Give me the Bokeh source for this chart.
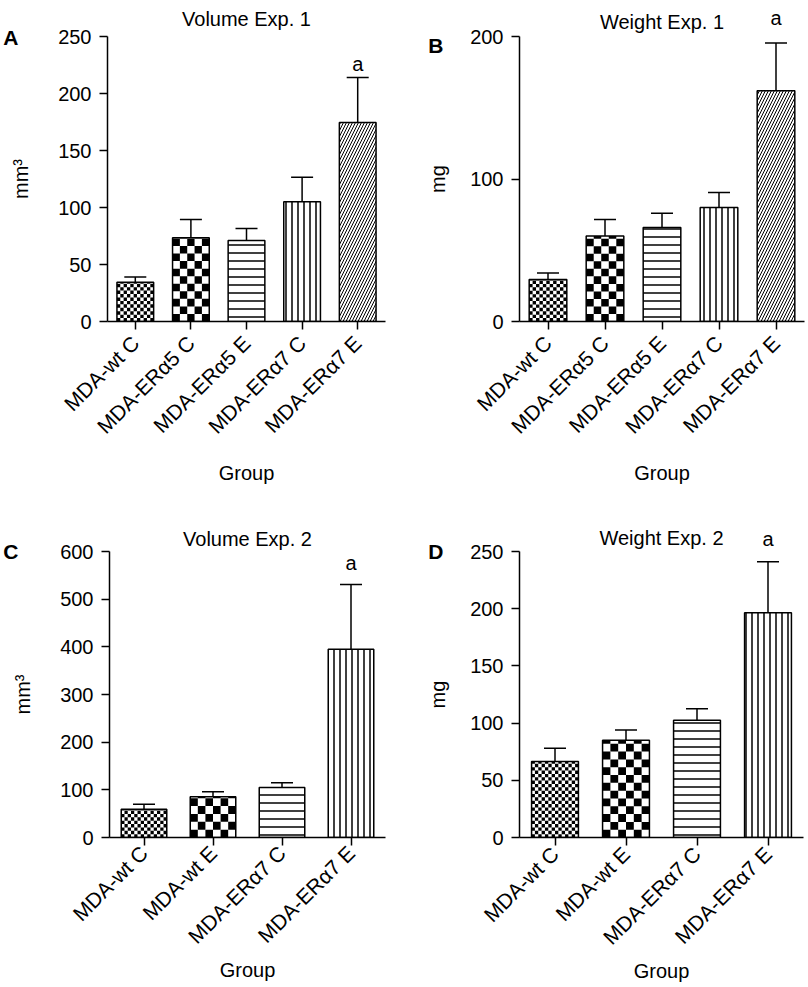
import math
from bokeh.plotting import figure
from bokeh.models import (ColumnDataSource, Whisker, TeeHead, LabelSet, FactorRange, Range1d,
                          FixedTicker, CategoricalAxis, LinearAxis, CustomJSTickFormatter)
from bokeh.core.properties import value
from bokeh.layouts import column, row
from bokeh.embed import file_html
from bokeh.resources import INLINE

# ---------------- data ----------------
groups_exp1 = ["MDA-wt C", "MDA-ERα5 C", "MDA-ERα5 E", "MDA-ERα7 C", "MDA-ERα7 E"]
volume_exp1 = [34.5, 73.5, 71.0, 105.0, 174.5]
volume_exp1_sem = [4.5, 16.0, 10.5, 21.5, 39.5]
weight_exp1 = [29.5, 60.0, 66.0, 80.0, 162.0]
weight_exp1_sem = [4.5, 11.5, 10.0, 10.5, 33.5]
sig_exp1 = ["", "", "", "", "a"]

groups_exp2 = ["MDA-wt C", "MDA-wt E", "MDA-ERα7 C", "MDA-ERα7 E"]
volume_exp2 = [59.5, 85.5, 105.0, 395.0]
volume_exp2_sem = [10.5, 10.5, 10.0, 136.0]
weight_exp2 = [66.5, 85.0, 102.5, 196.5]
weight_exp2_sem = [11.5, 9.0, 10.0, 44.5]
sig_exp2 = ["", "", "", "a"]

ticks_vol1 = [0, 50, 100, 150, 200, 250]
ticks_wt1 = [0, 100, 200]
ticks_vol2 = [0, 100, 200, 300, 400, 500, 600]
ticks_wt2 = [0, 50, 100, 150, 200, 250]

# ---------------- styles ----------------
FONT = "Liberation Sans"
BAR_W = 0.66
# fill style per bar: ("checker", cell px) or (hatch pattern, scale, weight)
style_exp1 = [("checker", 3.4), ("checker", 8), ("horizontal_line", 8, 1.5),
              ("vertical_line", 6, 1.5), ("right_diagonal_line", 6, 1.0)]
style_exp2 = [("checker", 3.4), ("checker", 8), ("horizontal_line", 8, 1.5),
              ("vertical_line", 6, 1.5)]


def checker_cells(idx, mean, cell_px, n, fw, fh, ymax):
    bar_px = BAR_W * fw / n
    ncol = max(1, round(bar_px / cell_px))
    dx = BAR_W / ncol
    dy = (bar_px / ncol) * ymax / fh
    nrow = math.ceil(mean / dy)
    x0 = idx + 0.5 - BAR_W / 2
    L, R, B, T = [], [], [], []
    for r in range(nrow):
        for k in range(ncol):
            if (r + k) % 2 == 0:
                L.append(x0 + k * dx)
                R.append(x0 + (k + 1) * dx)
                B.append(r * dy)
                T.append(min((r + 1) * dy, mean))
    return L, R, B, T


def panel(cats, means, sems, sig, styles, ymax, yticks, ylabel, title, letter,
          W, H, BL, BR, BT, BB, a_off, sig_in_header, s1, s2, letter_standoff, letter_dy,
          ylab_standoff, xmaj_standoff, xlab_standoff):
    n = len(cats)
    FW = W - BL - BR
    FH = H - BT - BB
    p = figure(x_range=FactorRange(*cats), y_range=Range1d(0, ymax),
               width=W, height=H,
               min_border_left=BL, min_border_right=BR, min_border_top=BT, min_border_bottom=BB,
               output_backend="svg", toolbar_location=None, tools="")
    p.outline_line_color = None
    p.xgrid.grid_line_color = None
    p.ygrid.grid_line_color = None
    xax = p.below[0]
    yax = p.left[0]

    upper = [m + s for m, s in zip(means, sems)]
    pats = [s[0] if s[0] != "checker" else "blank" for s in styles]
    scls = [s[1] if s[0] != "checker" else 12 for s in styles]
    wgts = [s[2] if s[0] != "checker" else 1 for s in styles]
    src = ColumnDataSource(dict(group=cats, mean=means, upper=upper,
                                pat=pats, scl=scls, wgt=wgts))
    p.vbar(x="group", top="mean", width=BAR_W, source=src,
           fill_color="white", line_color=None,
           hatch_pattern="pat", hatch_scale="scl", hatch_weight="wgt", hatch_color="black")
    # checkerboard fills
    L, R, B, T = [], [], [], []
    for i, (m, st) in enumerate(zip(means, styles)):
        if st[0] == "checker":
            l, r, b, t = checker_cells(i, m, st[1], n, FW, FH, ymax)
            L += l; R += r; B += b; T += t
    p.quad(left=L, right=R, bottom=B, top=T, fill_color="black", line_color=None)
    p.vbar(x="group", top="mean", width=BAR_W, source=src,
           fill_color=None, line_color="black", line_width=1.5)

    w = Whisker(base="group", upper="upper", lower="mean", source=src, dimension="height",
                line_color="black", line_width=1.5, lower_head=None,
                upper_head=TeeHead(size=22, line_color="black", line_width=1.5))
    p.add_layout(w)

    if not sig_in_header:
        sx = [c for c, s in zip(cats, sig) if s]
        sy = [u for u, s in zip(upper, sig) if s]
        st = [s for s in sig if s]
        ssrc = ColumnDataSource(dict(x=sx, y=sy, t=st))
        p.add_layout(LabelSet(x="x", y="y", text="t", source=ssrc, y_offset=a_off,
                              text_align="center", text_baseline="alphabetic",
                              text_font=value(FONT), text_font_size="20px",
                              text_color="black"))

    for ax in (xax, yax):
        ax.axis_line_width = 1.5
        ax.axis_line_color = "black"
        ax.major_tick_line_width = 1.5
        ax.major_tick_line_color = "black"
        ax.major_tick_out = 8
        ax.major_tick_in = 0
        ax.minor_tick_line_color = None
        ax.major_label_text_font = FONT
        ax.major_label_text_font_size = "20px"
        ax.major_label_text_color = "black"
        ax.axis_label_text_font = FONT
        ax.axis_label_text_font_size = "20px"
        ax.axis_label_text_font_style = "normal"
        ax.axis_label_text_color = "black"

    yax.ticker = FixedTicker(ticks=yticks)
    yax.axis_label = ylabel
    yax.major_label_standoff = 8
    yax.axis_label_standoff = ylab_standoff

    xax.axis_label = "Group"
    xax.major_label_text_font_size = "21px"
    xax.major_label_orientation = math.pi / 4
    xax.major_label_standoff = xmaj_standoff
    xax.axis_label_standoff = xlab_standoff

    # header axis: title (+ significance letters above the frame)
    top = CategoricalAxis(axis_line_color=None, major_tick_line_color=None,
                          minor_tick_line_color=None, major_tick_out=0, major_tick_in=0,
                          major_label_standoff=s1, major_label_text_font=FONT,
                          major_label_text_font_size="20px", major_label_text_color="black",
                          major_label_orientation="horizontal",
                          axis_label=title, axis_label_standoff=s2,
                          axis_label_text_font=FONT, axis_label_text_font_size="20px",
                          axis_label_text_font_style="normal", axis_label_text_color="black")
    if sig_in_header:
        top.formatter = CustomJSTickFormatter(
            args=dict(cats=list(cats), sig=list(sig)),
            code="const i = cats.indexOf(tick); return i >= 0 ? sig[i] : '';")
    else:
        top.major_label_text_color = None
    p.add_layout(top, "above")

    # panel letter, drawn as the label of an outer left axis
    lax = LinearAxis(ticker=FixedTicker(ticks=[ymax - letter_dy * ymax / FH]),
                     formatter=CustomJSTickFormatter(code="return '%s';" % letter),
                     axis_line_color=None, major_tick_line_color=None,
                     minor_tick_line_color=None, major_tick_out=0, major_tick_in=0,
                     major_label_standoff=letter_standoff, major_label_text_font=FONT,
                     major_label_text_font_size="21px", major_label_text_font_style="bold",
                     major_label_text_color="black")
    p.add_layout(lax, "left")
    return p


pA = panel(groups_exp1, volume_exp1, volume_exp1_sem, sig_exp1, style_exp1,
           250, ticks_vol1, "mm³", "Volume Exp. 1", "A",
           400, 510, 99, 15, 36, 189, 7, False, 0, 7, -11, 1, 23, 10, 13)
pB = panel(groups_exp1, weight_exp1, weight_exp1_sem, sig_exp1, style_exp1,
           200, ticks_wt1, "mg", "Weight Exp. 1", "B",
           407, 510, 119, 3, 36, 189, 0, True, 8, -29, -19, 8.5, 18, 10, 13)
pC = panel(groups_exp2, volume_exp2, volume_exp2_sem, sig_exp2, style_exp2,
           600, ticks_vol2, "mm³", "Volume Exp. 2", "C",
           400, 475, 99, 15, 41, 148, 14, False, 0, 2, -9, 0, 23, 4, 0)
pD = panel(groups_exp2, weight_exp2, weight_exp2_sem, sig_exp2, style_exp2,
           250, ticks_wt2, "mg", "Weight Exp. 2", "D",
           407, 475, 119, 4, 41, 148, 0, True, 2, -24, -19, 0, 18, 5, 0)

layout = column(row(pA, pB), row(pC, pD))
open("out.html", "w").write(file_html(layout, INLINE))
